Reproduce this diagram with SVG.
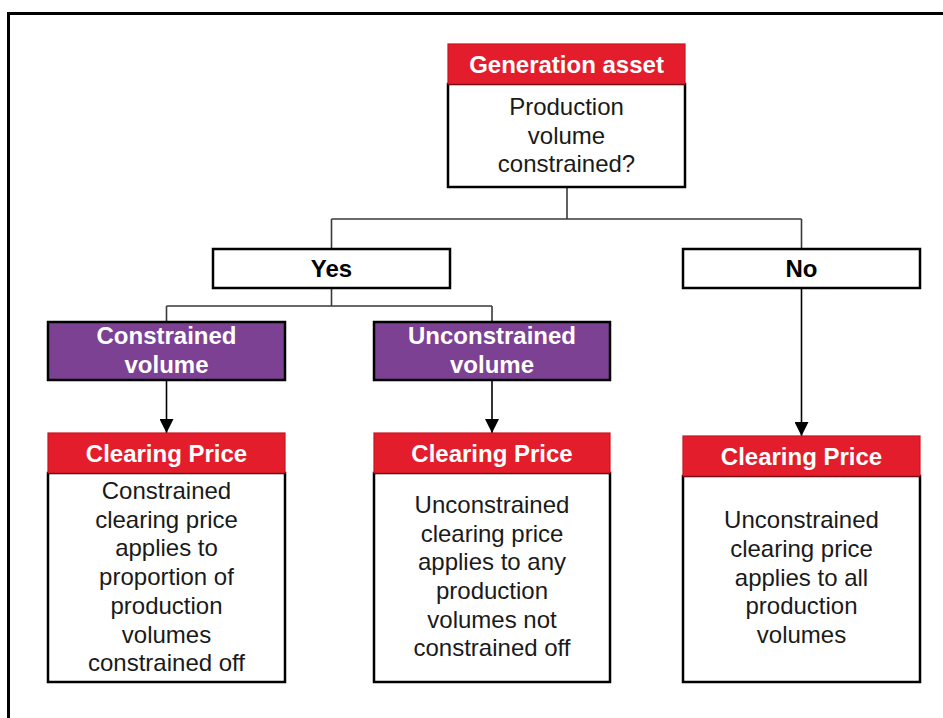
<svg xmlns="http://www.w3.org/2000/svg" width="943" height="718" viewBox="0 0 943 718">
  <style>
    .box { fill: #ffffff; stroke: #000000; stroke-width: 2.5; }
    .red { fill: #E31D2B; stroke: #C8151F; stroke-width: 1.2; }
    .purple { fill: #7D4194; stroke: #000000; stroke-width: 2.5; }
    .hdr { font-family: "Liberation Sans", Arial, sans-serif; font-weight: bold; font-size: 24px; fill: #ffffff; text-anchor: middle; }
    .lbl { font-family: "Liberation Sans", Arial, sans-serif; font-weight: bold; font-size: 24px; fill: #000000; text-anchor: middle; }
    .txt { font-family: "Liberation Sans", Arial, sans-serif; font-size: 24px; fill: #1a1a1a; text-anchor: middle; }
    .wire { fill: none; stroke: #3a3a3a; stroke-width: 1.6; }
    .arrow { fill: none; stroke: #000000; stroke-width: 1.6; marker-end: url(#head); }
  </style>
  <defs>
    <marker id="head" viewBox="0 0 14 14" refX="14" refY="7" markerWidth="14" markerHeight="14" markerUnits="userSpaceOnUse" orient="auto">
      <path d="M0,0 L14,7 L0,14 Z" fill="#000000"/>
    </marker>
  </defs>

  <rect width="943" height="718" fill="#ffffff"/>
  <!-- outer frame -->
  <path d="M8.5,718 V13.5 H943" fill="none" stroke="#000000" stroke-width="3"/>

  <g id="connectors">
    <path class="wire" d="M567,187 V219 M331.5,219 H801.5 M331.5,219 V249 M801.5,219 V249"/>
    <path class="wire" d="M331.5,288 V306 M166.5,306 H492 M166.5,306 V322 M492,306 V322"/>
    <path class="arrow" d="M166.5,380 V433"/>
    <path class="arrow" d="M492,380 V433"/>
    <path class="arrow" d="M801.5,288 V436"/>
  </g>

  <g id="generation-asset">
    <rect class="box" x="448" y="84" width="237" height="103"/>
    <rect class="red" x="448" y="44" width="237" height="40"/>
    <text class="hdr" x="566.5" y="73">Generation asset</text>
    <text class="txt" x="566.5" y="115">Production</text>
    <text class="txt" x="566.5" y="144">volume</text>
    <text class="txt" x="566.5" y="172">constrained?</text>
  </g>

  <g id="yes">
    <rect class="box" x="213" y="249" width="237" height="39"/>
    <text class="lbl" x="331.5" y="277">Yes</text>
  </g>

  <g id="no">
    <rect class="box" x="683" y="249" width="237" height="39"/>
    <text class="lbl" x="801.5" y="277">No</text>
  </g>

  <g id="constrained-volume">
    <rect class="purple" x="48" y="322" width="237" height="58"/>
    <text class="hdr" x="166.5" y="344">Constrained</text>
    <text class="hdr" x="166.5" y="373">volume</text>
  </g>

  <g id="unconstrained-volume">
    <rect class="purple" x="374" y="322" width="236" height="58"/>
    <text class="hdr" x="492" y="344">Unconstrained</text>
    <text class="hdr" x="492" y="373">volume</text>
  </g>

  <g id="price-constrained">
    <rect class="box" x="48" y="473" width="237" height="209"/>
    <rect class="red" x="48" y="433" width="237" height="40"/>
    <text class="hdr" x="166.5" y="462">Clearing Price</text>
    <text class="txt" x="166.5" y="499">Constrained</text>
    <text class="txt" x="166.5" y="528">clearing price</text>
    <text class="txt" x="166.5" y="556">applies to</text>
    <text class="txt" x="166.5" y="585">proportion of</text>
    <text class="txt" x="166.5" y="614">production</text>
    <text class="txt" x="166.5" y="643">volumes</text>
    <text class="txt" x="166.5" y="671">constrained off</text>
  </g>

  <g id="price-unconstrained">
    <rect class="box" x="374" y="473" width="236" height="209"/>
    <rect class="red" x="374" y="433" width="236" height="40"/>
    <text class="hdr" x="492" y="462">Clearing Price</text>
    <text class="txt" x="492" y="513">Unconstrained</text>
    <text class="txt" x="492" y="542">clearing price</text>
    <text class="txt" x="492" y="570">applies to any</text>
    <text class="txt" x="492" y="599">production</text>
    <text class="txt" x="492" y="628">volumes not</text>
    <text class="txt" x="492" y="656">constrained off</text>
  </g>

  <g id="price-all">
    <rect class="box" x="683" y="476" width="237" height="206"/>
    <rect class="red" x="683" y="436" width="237" height="40"/>
    <text class="hdr" x="801.5" y="465">Clearing Price</text>
    <text class="txt" x="801.5" y="528">Unconstrained</text>
    <text class="txt" x="801.5" y="557">clearing price</text>
    <text class="txt" x="801.5" y="586">applies to all</text>
    <text class="txt" x="801.5" y="614">production</text>
    <text class="txt" x="801.5" y="643">volumes</text>
  </g>
</svg>
